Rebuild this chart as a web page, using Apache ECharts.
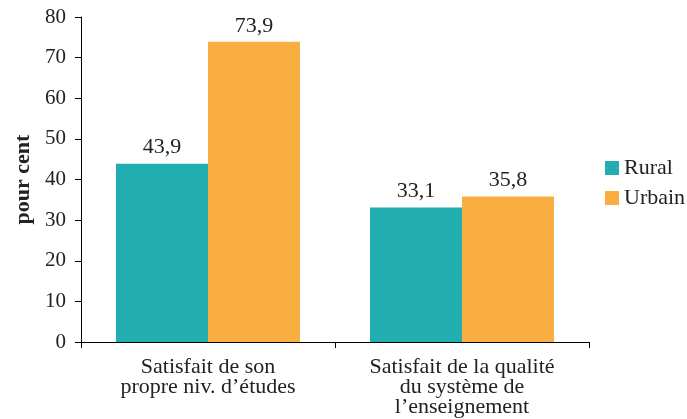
<!DOCTYPE html>
<html>
<head>
<meta charset="utf-8">
<script src="https://cdn.jsdelivr.net/npm/echarts@6/dist/echarts.min.js"></script>
<style>html,body{margin:0;padding:0;background:#fff}#c{width:687px;height:419px}</style>
</head>
<body>
<div id="c"></div>
<script>
var categories = ['Satisfait de son\npropre niv. d\u2019\u00e9tudes', 'Satisfait de la qualit\u00e9\ndu syst\u00e8me de\nl\u2019enseignement'];
var rural = [43.9, 33.1];
var urbain = [73.9, 35.8];
var yTicks = [0, 10, 20, 30, 40, 50, 60, 70, 80];

var FONT = '"Liberation Serif", "Times New Roman", serif';
var chart = echarts.init(document.getElementById('c'), null, {renderer: 'canvas'});
function fmt(p) { return String(p.value.toFixed(1)).replace('.', ','); }
chart.setOption({
  animation: false,
  textStyle: {fontFamily: FONT},
  grid: {left: 81, right: 98, top: 17, bottom: 77},
  legend: {
    orient: 'vertical', left: 600, top: 152,
    itemWidth: 14, itemHeight: 14, itemGap: 8,
    icon: 'rect',
    textStyle: {fontFamily: FONT, fontSize: 22, color: '#222'},
    data: ['Rural', 'Urbain']
  },
  xAxis: {
    type: 'category', data: categories,
    axisLine: {lineStyle: {color: '#000', width: 1}},
    axisTick: {show: true, length: 6, lineStyle: {color: '#000'}},
    axisLabel: {fontFamily: FONT, fontSize: 22, color: '#222', lineHeight: 20, margin: 15}
  },
  yAxis: {
    type: 'value', min: yTicks[0], max: yTicks[yTicks.length - 1], interval: 10,
    name: 'pour cent', nameLocation: 'middle', nameGap: 41,
    nameTextStyle: {fontFamily: FONT, fontSize: 22, fontWeight: 'bold', color: '#222'},
    axisLine: {show: true, lineStyle: {color: '#000', width: 1}},
    axisTick: {show: true, length: 6, lineStyle: {color: '#000'}},
    splitLine: {show: false},
    axisLabel: {fontFamily: FONT, fontSize: 21, color: '#222', margin: 15}
  },
  series: [
    {name: 'Rural', type: 'bar', data: rural, barWidth: 92, barGap: '0%',
     itemStyle: {color: '#22AEB0'},
     label: {show: true, position: 'top', distance: 5, formatter: fmt, fontFamily: FONT, fontSize: 22, color: '#222'}},
    {name: 'Urbain', type: 'bar', data: urbain, barWidth: 92, barGap: '0%',
     itemStyle: {color: '#F9AE42'},
     label: {show: true, position: 'top', distance: 5, formatter: fmt, fontFamily: FONT, fontSize: 22, color: '#222'}}
  ]
});
</script>
</body>
</html>
